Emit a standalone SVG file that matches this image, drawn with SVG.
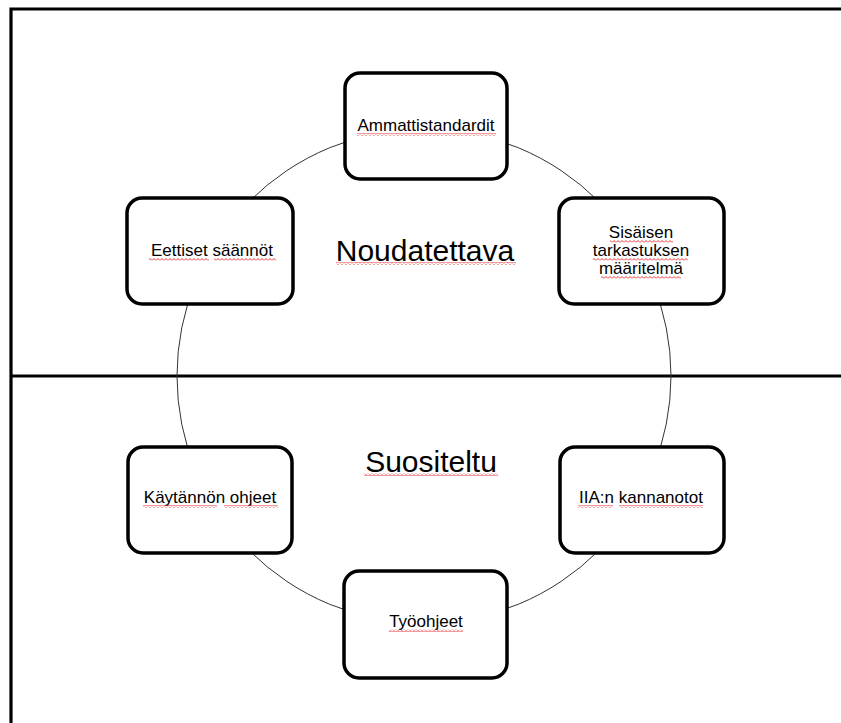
<svg xmlns="http://www.w3.org/2000/svg" width="841" height="723" viewBox="0 0 841 723">
<style>
.frame{stroke:#000;stroke-width:3.2;fill:none}
.ring{stroke:#333;stroke-width:1;fill:none}
.box{fill:#fff;stroke:#000;stroke-width:3.5}
.t{font-family:"Liberation Sans",Arial,sans-serif;font-size:17px;fill:#000;text-anchor:middle}
.big{font-family:"Liberation Sans",Arial,sans-serif;font-size:30px;fill:#000;text-anchor:middle}
.sq{fill:url(#squig)}
</style>
<defs>
<pattern id="squig" patternUnits="userSpaceOnUse" width="4" height="3">
<path d="M0,2.5 L2,0.5 L4,2.5" fill="none" stroke="#e8343a" stroke-width="1"/>
</pattern>
</defs>
<rect width="841" height="723" fill="#fff"/>
<g id="frame">
<path class="frame" d="M11,723 V9 H841"/>
<path class="frame" d="M11,376 H841"/>
</g>
<g id="connectors">
<circle class="ring" cx="424" cy="376" r="247"/>
</g>
<g id="labels-zones">
<text class="big" x="425" y="261">Noudatettava</text>
<rect class="sq" x="336" y="262" width="180" height="3"/>
<text class="big" x="431" y="472">Suositeltu</text>
<rect class="sq" x="364" y="473" width="134" height="3"/>
</g>
<g id="n-ammattistandardit">
<rect class="box" x="345" y="73" width="162" height="106" rx="15"/>
<text class="t" x="426" y="131">Ammattistandardit</text>
<rect class="sq" x="357" y="133" width="139" height="3"/>
</g>
<g id="n-sisaisen">
<rect class="box" x="559" y="198" width="165" height="106" rx="15"/>
<text class="t" x="641" y="238">Sisäisen</text>
<text class="t" x="641" y="256">tarkastuksen</text>
<text class="t" x="641" y="274">määritelmä</text>
<rect class="sq" x="610" y="240" width="63" height="3"/>
<rect class="sq" x="593" y="258" width="95" height="3"/>
<rect class="sq" x="601" y="276" width="80" height="3"/>
</g>
<g id="n-eettiset">
<rect class="box" x="127" y="198" width="166" height="106" rx="15"/>
<text class="t" x="212" y="256">Eettiset säännöt</text>
<rect class="sq" x="149" y="258" width="60" height="3"/>
<rect class="sq" x="214" y="258" width="62" height="3"/>
</g>
<g id="n-kaytannon">
<rect class="box" x="128" y="447" width="164" height="106" rx="15"/>
<text class="t" x="210" y="503">Käytännön ohjeet</text>
<rect class="sq" x="143" y="505" width="74" height="3"/>
<rect class="sq" x="224" y="505" width="54" height="3"/>
</g>
<g id="n-iia">
<rect class="box" x="560" y="447" width="164" height="106" rx="15"/>
<text class="t" x="641" y="503">IIA:n kannanotot</text>
<rect class="sq" x="578" y="505" width="35" height="3"/>
<rect class="sq" x="619" y="505" width="84" height="3"/>
</g>
<g id="n-tyoohjeet">
<rect class="box" x="344" y="571" width="163" height="107" rx="15"/>
<text class="t" x="426" y="627">Työohjeet</text>
<rect class="sq" x="389" y="629" width="74" height="3"/>
</g>
</svg>
